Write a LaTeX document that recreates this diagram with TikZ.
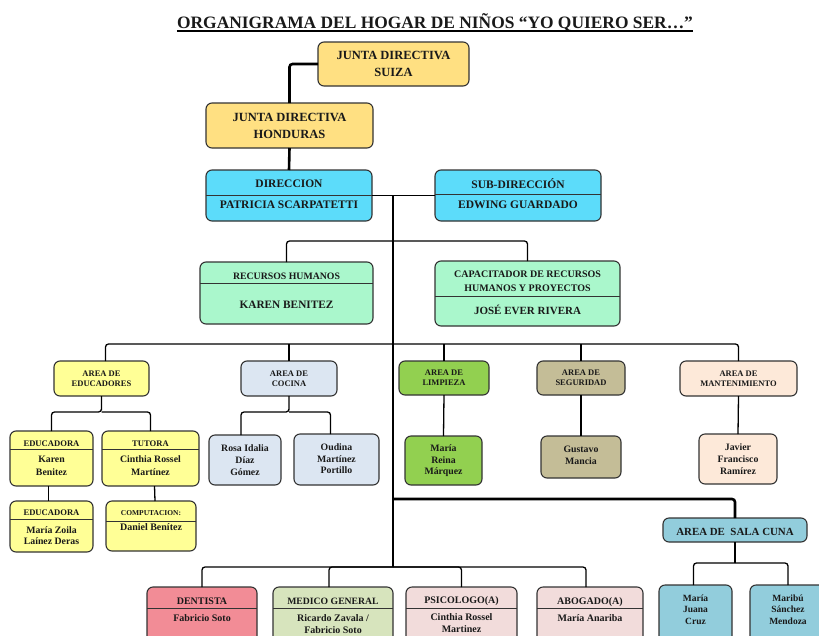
\documentclass[tikz,border=0pt]{standalone}
\usepackage{fontspec}
\setmainfont{Liberation Serif}
\definecolor{cgold}{RGB}{255,224,130}
\definecolor{ccyan}{RGB}{92,220,250}
\definecolor{cmint}{RGB}{170,247,204}
\definecolor{cyel}{RGB}{255,255,150}
\definecolor{ccoc}{RGB}{220,230,242}
\definecolor{clim}{RGB}{146,208,80}
\definecolor{cseg}{RGB}{196,189,151}
\definecolor{cman}{RGB}{253,233,217}
\definecolor{cden}{RGB}{242,140,150}
\definecolor{cmed}{RGB}{215,228,189}
\definecolor{cpsi}{RGB}{242,220,219}
\definecolor{csal}{RGB}{146,205,220}
\newcommand\fs[2]{\fontsize{#1}{#2}\selectfont}
\newcommand\bx[6]{\node[box,fill=#6,minimum width={#4pt-#2pt},minimum height={#5pt-#3pt}] (#1) at ({(#2+#4)/2},{(#3+#5)/2}) {};}
\newcommand\dv[2]{\draw[divider] (#1.west |- 0,#2) -- (#1.east |- 0,#2);}
\tikzset{
  box/.style={draw=black!80, line width=1.1pt, rounded corners=6pt, inner sep=0pt, outer sep=0pt},
  divider/.style={draw=black!80, line width=1pt},
  conn/.style={draw=black, line width=1.3pt, rounded corners=3pt},
  boldconn/.style={draw=black, line width=2.6pt, rounded corners=3pt},
  lbl/.style={font=\bfseries, align=center, inner sep=0pt, text=black!90}
}
\begin{document}
\begin{tikzpicture}[x=1pt,y=-1pt]
\clip (0,0) rectangle (819,635);
\fill[white] (0,0) rectangle (819,635);
% title
\node[lbl, font=\bfseries\fs{17.4}{20}] (title) at (435,22) {ORGANIGRAMA DEL HOGAR DE NIÑOS “YO QUIERO SER…”};
\draw[line width=1.2pt] ([yshift=-3pt]title.base west) -- ([yshift=-3pt]title.base east);
% boxes
\bx{suiza}{318}{42}{469}{86}{cgold}
\bx{hond}{206}{103}{373}{148}{cgold}
\bx{dir}{206}{170}{372}{221}{ccyan}
\bx{sub}{435}{170}{601}{221}{ccyan}
\bx{rrhh}{200}{262}{373}{324}{cmint}
\bx{cap}{435}{261}{620}{326}{cmint}
\bx{edu}{54}{361}{149}{396}{cyel}
\bx{coc}{241}{361}{337}{396}{ccoc}
\bx{lim}{399}{361}{489}{395}{clim}
\bx{seg}{537}{361}{625}{395}{cseg}
\bx{man}{680}{361}{797}{396}{cman}
\bx{karen}{10}{431}{93}{486}{cyel}
\bx{tutora}{102}{431}{199}{486}{cyel}
\bx{rosa}{209}{435}{281}{485}{ccoc}
\bx{oudina}{294}{434}{379}{485}{ccoc}
\bx{reina}{405}{436}{482}{485}{clim}
\bx{gustavo}{541}{436}{621}{478}{cseg}
\bx{javier}{699}{434}{777}{484}{cman}
\bx{zoila}{10}{501}{93}{552}{cyel}
\bx{comp}{106}{501}{196}{551}{cyel}
\bx{sala}{663}{518}{807}{542}{csal}
\bx{juana}{659}{585}{732}{660}{csal}
\bx{maribu}{750}{585}{826}{660}{csal}
\bx{dent}{147}{587}{257}{660}{cden}
\bx{med}{273}{587}{393}{660}{cmed}
\bx{psi}{406}{587}{517}{660}{cpsi}
\bx{abo}{537}{587}{643}{660}{cpsi}
% dividers
\dv{dir}{195}
\dv{sub}{194}
\dv{rrhh}{283}
\dv{cap}{296}
\dv{karen}{449}
\dv{tutora}{449}
\dv{zoila}{519}
\dv{comp}{521}
\dv{dent}{608}
\dv{med}{608}
\dv{psi}{608}
\dv{abo}{608}
% texts
\node[lbl, font=\bfseries\fs{12.5}{17}] (suiza-t) at (393.5,64) {JUNTA DIRECTIVA\\SUIZA};
\node[lbl, font=\bfseries\fs{12.5}{17}] (hond-t) at (289.5,126) {JUNTA DIRECTIVA\\HONDURAS};
\node[lbl, font=\bfseries\fs{11.5}{13}] (dir-a) at (289,184) {DIRECCION};
\node[lbl, font=\bfseries\fs{11.5}{13}] (dir-b) at (289,205) {PATRICIA SCARPATETTI};
\node[lbl, font=\bfseries\fs{11.5}{13}] (sub-a) at (518,184) {SUB-DIRECCIÓN};
\node[lbl, font=\bfseries\fs{11.5}{13}] (sub-b) at (518,205) {EDWING GUARDADO};
\node[lbl, font=\bfseries\fs{9.8}{11}] (rrhh-a) at (286.5,276) {RECURSOS HUMANOS};
\node[lbl, font=\bfseries\fs{11.3}{13}] (rrhh-b) at (286.5,305) {KAREN BENITEZ};
\node[lbl, font=\bfseries\fs{10}{14}] (cap-a) at (527.5,281) {CAPACITADOR DE RECURSOS\\HUMANOS Y PROYECTOS};
\node[lbl, font=\bfseries\fs{11}{13}] (cap-b) at (527.5,310) {JOSÉ EVER RIVERA};
\node[lbl, font=\bfseries\fs{8.5}{10}] (edu-t) at (101.5,378.5) {AREA DE\\EDUCADORES};
\node[lbl, font=\bfseries\fs{8.5}{10}] (coc-t) at (289,378.5) {AREA DE\\COCINA};
\node[lbl, font=\bfseries\fs{8.5}{10}] (lim-t) at (444,378) {AREA DE\\LIMPIEZA};
\node[lbl, font=\bfseries\fs{8.5}{10}] (seg-t) at (581,378) {AREA DE\\SEGURIDAD};
\node[lbl, font=\bfseries\fs{8.5}{10}] (man-t) at (738.5,378.5) {AREA DE\\MANTENIMIENTO};
\node[lbl, font=\bfseries\fs{8.6}{9}] (karen-a) at (51.5,444) {EDUCADORA};
\node[lbl, font=\bfseries\fs{9.8}{13}] (karen-b) at (51.5,465.5) {Karen\\Benitez};
\node[lbl, font=\bfseries\fs{8.6}{9}] (tutora-a) at (150.5,444) {TUTORA};
\node[lbl, font=\bfseries\fs{9.8}{13}] (tutora-b) at (150.5,465.5) {Cinthia Rossel\\Martínez};
\node[lbl, font=\bfseries\fs{9.8}{12}] (rosa-t) at (245,460) {Rosa Idalia\\Díaz\\Gómez};
\node[lbl, font=\bfseries\fs{9.8}{11.5}] (oudina-t) at (336.5,459) {Oudina\\Martínez\\Portillo};
\node[lbl, font=\bfseries\fs{9.8}{11.5}] (reina-t) at (443.5,461) {María\\Reina\\Márquez};
\node[lbl, font=\bfseries\fs{9.8}{12}] (gustavo-t) at (581,455) {Gustavo\\Mancia};
\node[lbl, font=\bfseries\fs{9.8}{12}] (javier-t) at (738,459) {Javier\\Francisco\\Ramírez};
\node[lbl, font=\bfseries\fs{8.6}{9}] (zoila-a) at (51.5,513) {EDUCADORA};
\node[lbl, font=\bfseries\fs{9.8}{11}] (zoila-b) at (51.5,535.5) {María Zoila\\Laínez Deras};
\node[lbl, font=\bfseries\fs{7.5}{8}] (comp-a) at (151,513) {COMPUTACION:};
\node[lbl, font=\bfseries\fs{10}{11}] (comp-b) at (151,527) {Daniel Benítez};
\node[lbl, font=\bfseries\fs{10.9}{12}] (sala-t) at (735,532) {AREA DE\ \ SALA CUNA};
\node[lbl, font=\bfseries\fs{9.5}{11.5}] (juana-t) at (695.5,609.5) {María\\Juana\\Cruz};
\node[lbl, font=\bfseries\fs{9.5}{11.5}] (maribu-t) at (788,609.5) {Maribú\\Sánchez\\Mendoza};
\node[lbl, font=\bfseries\fs{10}{11}] (dent-a) at (202,601.5) {DENTISTA};
\node[lbl, font=\bfseries\fs{10}{11}] (dent-b) at (202,618) {Fabricio Soto};
\node[lbl, font=\bfseries\fs{9.7}{11}] (med-a) at (333,601.5) {MEDICO GENERAL};
\node[lbl, font=\bfseries\fs{10}{12}] (med-b) at (333,624) {Ricardo Zavala /\\Fabricio Soto};
\node[lbl, font=\bfseries\fs{10}{11}] (psi-a) at (461.5,601) {PSICOLOGO(A)};
\node[lbl, font=\bfseries\fs{10}{11.5}] (psi-b) at (461.5,623) {Cinthia Rossel\\Martinez};
\node[lbl, font=\bfseries\fs{10}{11}] (abo-a) at (590,602) {ABOGADO(A)};
\node[lbl, font=\bfseries\fs{10}{11}] (abo-b) at (590,618) {María Anariba};
% connectors
\coordinate (trTop) at (393,195);
\coordinate (trBot) at (393,567);
\draw[boldconn] (suiza.west) -| (hond.north);
\draw[boldconn] (hond.south) -- (dir.north);
\draw[conn] (dir.east) -- (sub.west);
\draw[conn] (trTop) -- (trBot);
\draw[conn] (rrhh.north) |- (393,241) -| (cap.north);
\draw[conn] ([xshift=4pt]edu.north) |- (393,344) -| (man.north);
\draw[conn] (coc.north) -- (coc.north |- 0,344);
\draw[conn] (lim.north) -- (lim.north |- 0,344);
\draw[conn] (seg.north) -- (seg.north |- 0,344);
\draw[conn] (edu.south) |- (101.5,412) -| (karen.north);
\draw[conn] (101.5,412) -| (tutora.north);
\draw[conn] (coc.south) |- (289,412) -| ([xshift=-4pt]rosa.north);
\draw[conn] (289,412) -| ([xshift=-6pt]oudina.north);
\draw[conn] (lim.south) -- (reina.north);
\draw[conn] (seg.south) -- (gustavo.north);
\draw[conn] (man.south) -- (javier.north);
\draw[conn] ([xshift=-3pt]karen.south) -- ([xshift=-3pt]zoila.north);
\draw[conn] ([xshift=4pt]tutora.south) -- ([xshift=4pt]comp.north);
\draw[boldconn] (393,499) -| (sala.north);
\draw[boldconn] (sala.south) -- (735,563);
\draw[conn] (735,563) -| ([xshift=-2pt]juana.north);
\draw[conn] (735,563) -| (maribu.north);
\draw[conn] (trBot) -| (dent.north);
\draw[conn] (trBot) -| ([xshift=-4pt]med.north);
\draw[conn] (trBot) -| (psi.north);
\draw[conn] (trBot) -| ([xshift=-4pt]abo.north);
\end{tikzpicture}
\end{document}
